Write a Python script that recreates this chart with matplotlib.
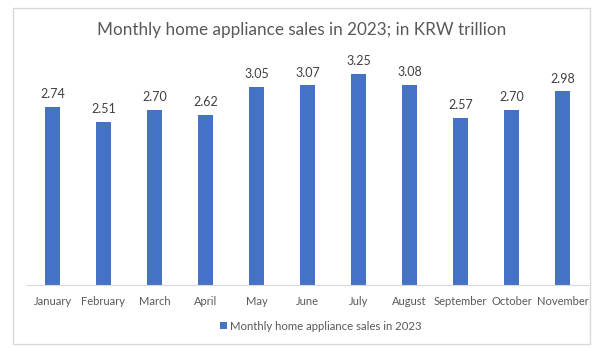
import matplotlib.pyplot as plt
from matplotlib.patches import Rectangle

months = ['January', 'February', 'March', 'April', 'May', 'June', 'July',
          'August', 'September', 'October', 'November']
sales = [2.74, 2.51, 2.70, 2.62, 3.05, 3.07, 3.25, 3.08, 2.57, 2.70, 2.98]
series_name = 'Monthly home appliance sales in 2023'
title = 'Monthly home appliance sales in 2023; in KRW trillion'

plt.rcParams['font.family'] = ['Lato', 'DejaVu Sans']

W, H = 604, 354
fig = plt.figure(figsize=(W / 100, H / 100), dpi=100)

# chart border
fig.patches.append(Rectangle((13 / W, 1 - 344 / H), 577 / W, 336 / H,
                             transform=fig.transFigure, fill=False,
                             edgecolor='#d9d9d9', linewidth=1))

ax = fig.add_axes([27 / W, 1 - 285 / H, 561 / W, 227.5 / H])
bar_color = '#4472c4'
x = list(range(len(months)))
bars = ax.bar(x, sales, width=0.3, color=bar_color, label=series_name)
for xi, v in zip(x, sales):
    ax.text(xi, v + 0.1, f'{v:.2f}', ha='center', va='bottom',
            fontsize=9, color='#404040')

ax.set_xlim(-0.5, len(months) - 0.5)
ax.set_ylim(0, 3.5)
ax.set_xticks(x)
ax.set_xticklabels(months, fontsize=8, color='#595959')
ax.tick_params(axis='x', length=0, pad=8)
ax.set_yticks([])
for s in ['top', 'right', 'left']:
    ax.spines[s].set_visible(False)
ax.spines['bottom'].set_color('#d9d9d9')

fig.text(0.5, 1 - 30 / H, title, ha='center', va='center',
         fontsize=12.3, color='#595959')

fig.legend(handles=[bars], labels=[series_name], loc='center',
           bbox_to_anchor=(321 / W, 1 - 326 / H), frameon=False, fontsize=8.2,
           handlelength=0.6, handleheight=0.6, handletextpad=0.3,
           labelcolor='#595959')

fig.savefig('out.png', dpi=100)
